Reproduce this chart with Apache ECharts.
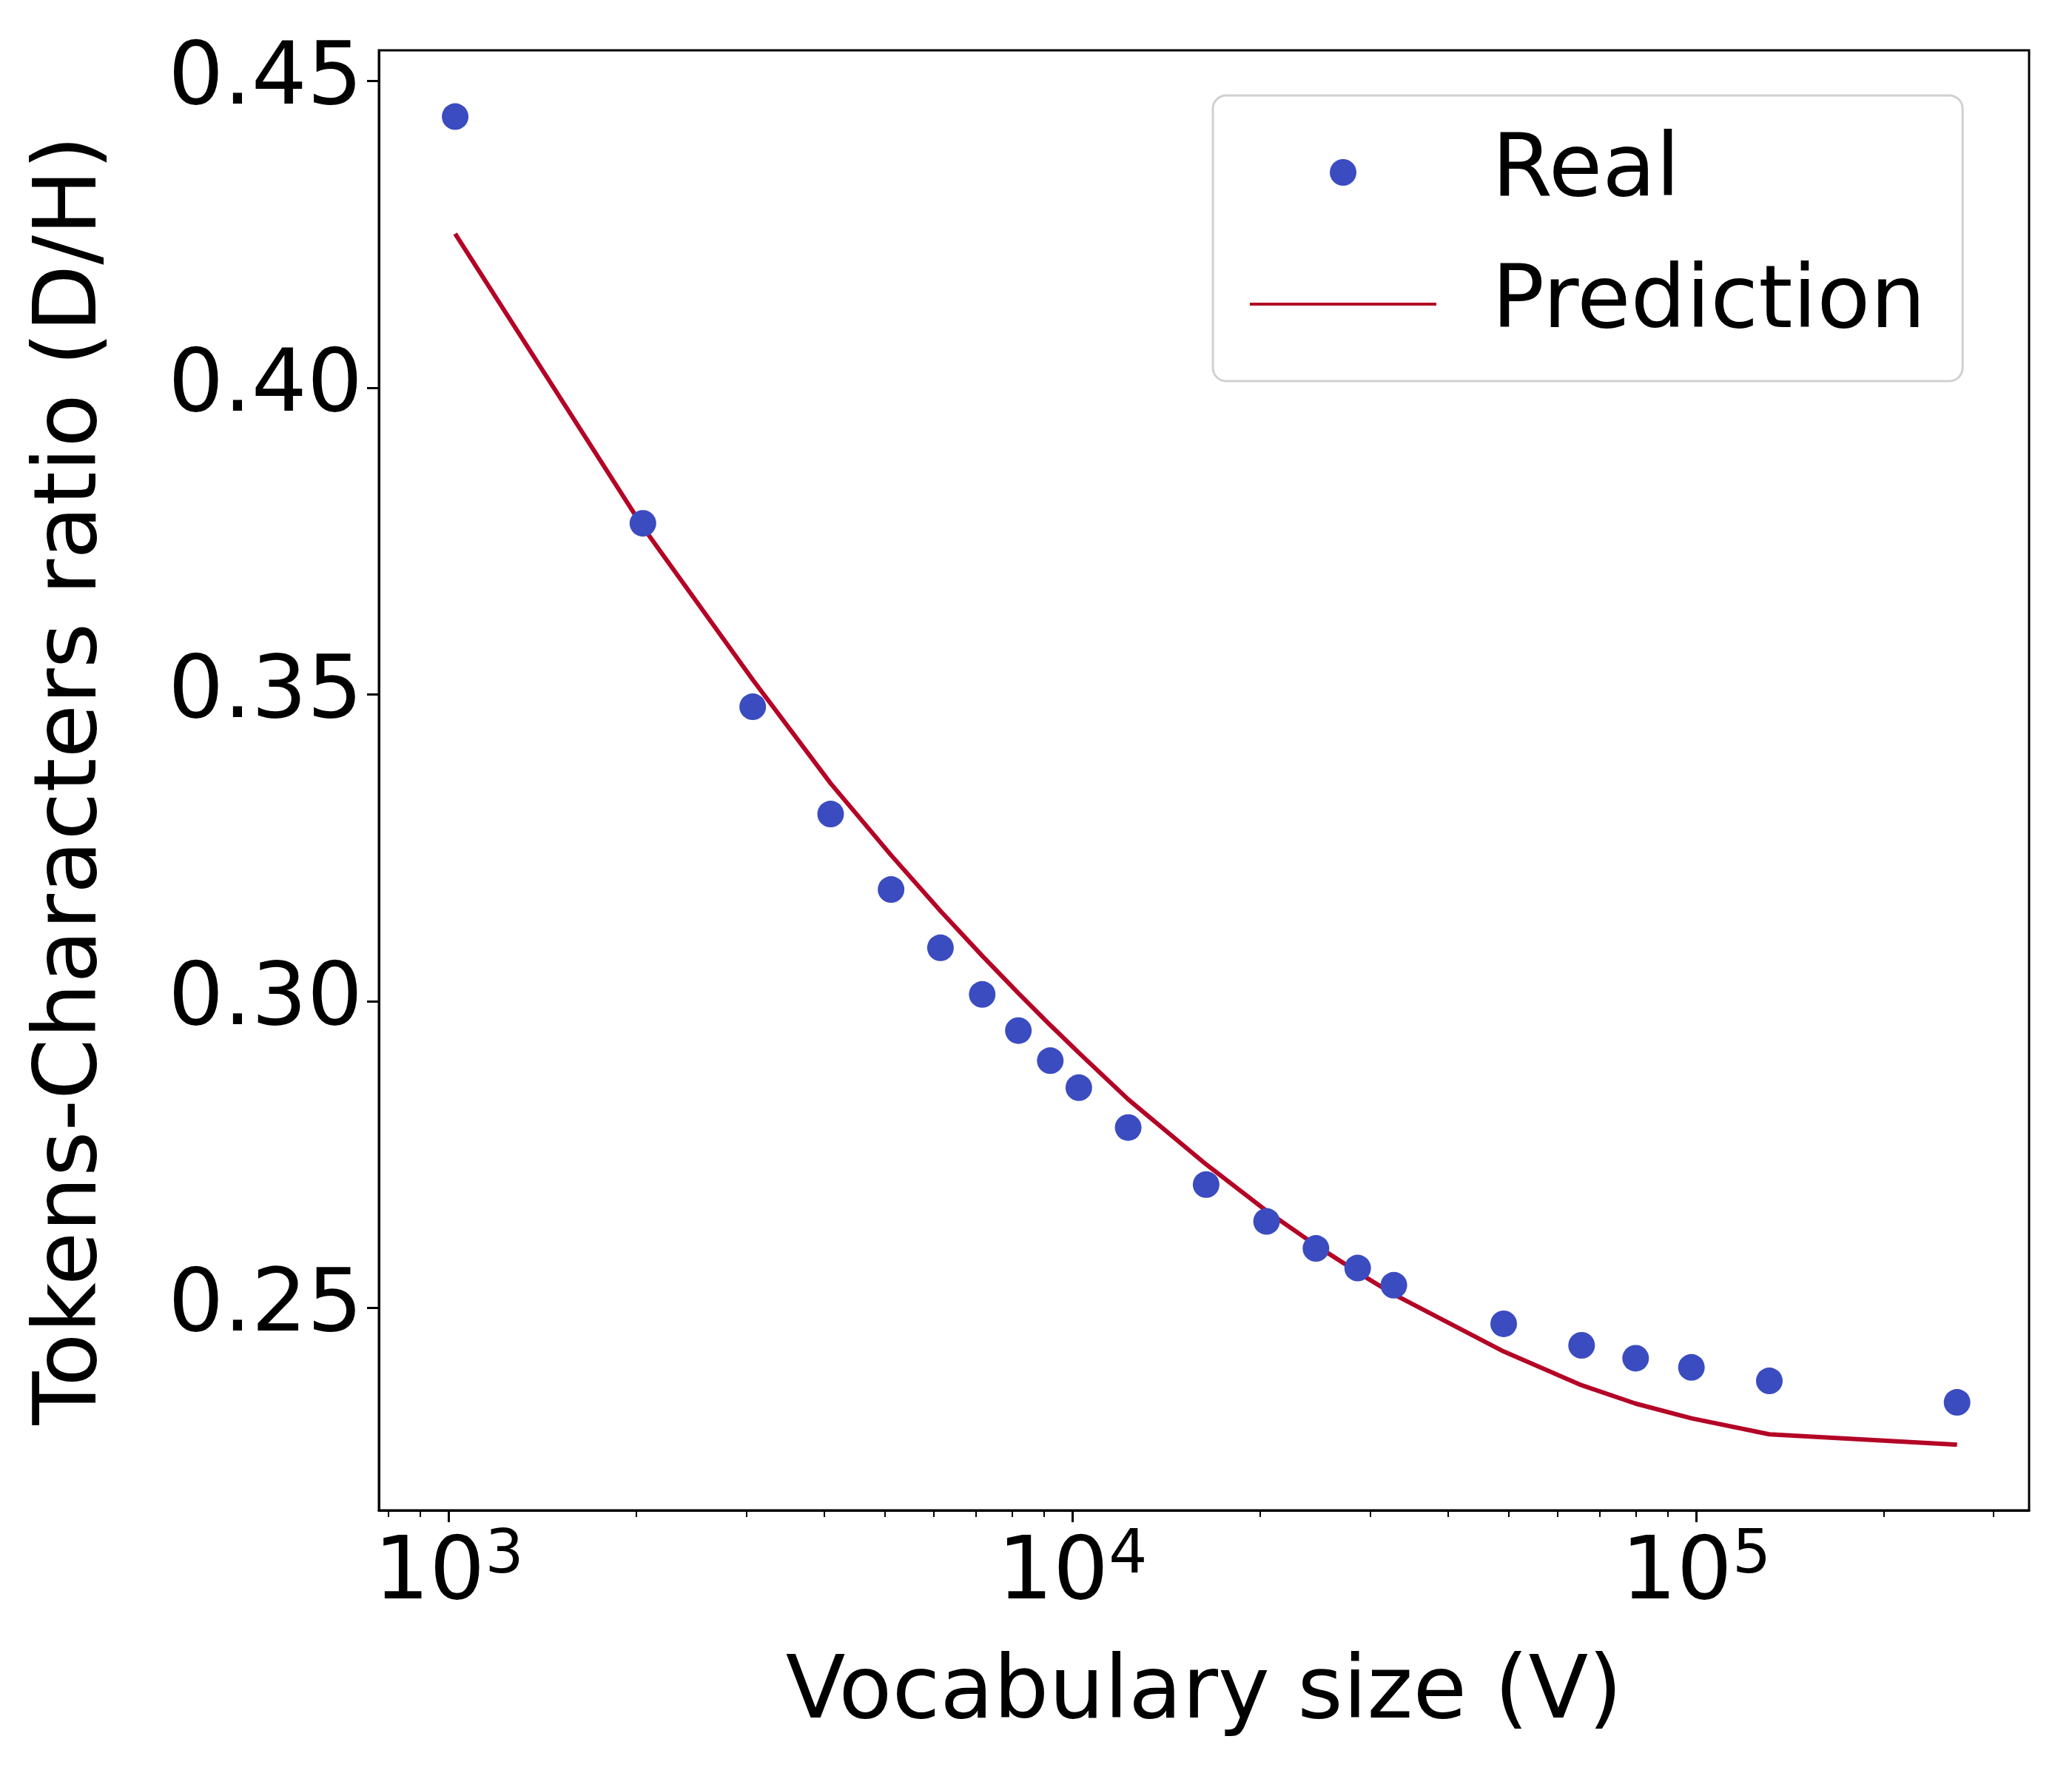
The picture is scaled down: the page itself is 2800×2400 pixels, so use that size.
<!DOCTYPE html>
<html>
<head>
<meta charset="utf-8">
<script src="https://cdn.jsdelivr.net/npm/echarts@6/dist/echarts.min.js"></script>
<style>html,body{margin:0;background:#fff}#main{width:2800px;height:2400px}</style>
</head>
<body>
<div id="main"></div>
<script>
// vocabulary sizes (V)
var vocab = [1024, 2048, 3072, 4096, 5120, 6144, 7168, 8192, 9216, 10240, 12288,
	16384, 20480, 24576, 28672, 32768, 49152, 65536, 80000, 98304, 131072, 262144];
// measured tokens / characters ratio
var realRatio = [0.4442, 0.3779, 0.3480, 0.3305, 0.3182, 0.3087, 0.3011, 0.2952, 0.2903, 0.2859, 0.2794,
	0.2701, 0.2641, 0.2597, 0.2565, 0.2537, 0.2474, 0.2439, 0.2418, 0.2403, 0.2381, 0.2346];
// fitted prediction
var predRatio = [0.4251, 0.3773, 0.3524, 0.3355, 0.3238, 0.3147, 0.3074, 0.3013, 0.2961, 0.2916, 0.2840,
	0.2734, 0.2658, 0.2602, 0.2558, 0.2522, 0.2429, 0.2374, 0.2344, 0.2320, 0.2294, 0.2277];
var yTicks = [0.25, 0.30, 0.35, 0.40, 0.45];
var xMajor = [3, 4, 5];

var xMinor = [];
for (var k = 2; k <= 5; k++) {
	for (var m = 2; m <= 9; m++) {
		var v = Math.log10(m * Math.pow(10, k));
		if (v > 2.888 && v < 5.534) xMinor.push(v);
	}
}

var font = 'DejaVu Sans';
var realData = [], predData = [];
for (var i = 0; i < vocab.length; i++) {
	realData.push([Math.log10(vocab[i]), realRatio[i]]);
	predData.push([Math.log10(vocab[i]), predRatio[i]]);
}

var myChart = echarts.init(document.getElementById('main'));
var option = {
	animation: false,
	backgroundColor: '#fff',
	grid: { left: 512, right: 58, top: 68, bottom: 359, show: true, borderColor: '#000', borderWidth: 3 },
	legend: {
		left: 1639, top: 129, orient: 'vertical',
		padding: [45, 50, 45, 50],
		borderColor: '#d0d0d0', borderWidth: 3, borderRadius: 18,
		itemWidth: 252, itemHeight: 36, itemGap: 60,
		textStyle: { fontFamily: font, fontSize: 118, color: '#000', padding: [0, 0, 0, 70] },
		data: [{ name: 'Real' }, { name: 'Prediction', icon: 'path://M0,0L100,0L100,1.6L0,1.6Z', itemStyle: { color: '#b40426' } }]
	},
	xAxis: [{
		type: 'value', min: 2.888, max: 5.534,
		name: 'Vocabulary size (V)', nameLocation: 'middle', nameGap: 190,
		nameTextStyle: { fontFamily: font, fontSize: 118, color: '#000' },
		splitLine: { show: false },
		axisLine: { lineStyle: { color: '#000', width: 3 } },
		axisTick: { customValues: xMajor, length: 16, lineStyle: { color: '#000', width: 3 } },
		axisLabel: {
			customValues: xMajor, margin: 22, fontFamily: font, fontSize: 118, color: '#000',
			formatter: function(v) { return '10{sup|' + Math.round(v) + '}'; },
			rich: { sup: { fontFamily: font, fontSize: 82, verticalAlign: 'top', padding: [0, 0, 50, 0], color: '#000' } }
		}
	}, {
		type: 'value', min: 2.888, max: 5.534, position: 'bottom',
		splitLine: { show: false },
		axisLine: { show: false },
		axisTick: { customValues: xMinor, length: 9, lineStyle: { color: '#000', width: 2 } },
		axisLabel: { show: false }
	}],
	yAxis: {
		type: 'value', min: 0.217, max: 0.455,
		name: 'Tokens-Characters ratio (D/H)', nameLocation: 'middle', nameGap: 355,
		nameTextStyle: { fontFamily: font, fontSize: 118, color: '#000' },
		splitLine: { show: false },
		axisLine: { lineStyle: { color: '#000', width: 3 } },
		axisTick: { customValues: yTicks, length: 16, lineStyle: { color: '#000', width: 3 } },
		axisLabel: {
			customValues: yTicks, margin: 22, fontFamily: font, fontSize: 118, color: '#000',
			formatter: function(v) { return v.toFixed(2); }
		}
	},
	series: [{
		name: 'Real', type: 'scatter', data: realData,
		symbolSize: 36, itemStyle: { color: '#3b4cc0', opacity: 1 }, z: 3
	}, {
		name: 'Prediction', type: 'line', data: predData,
		showSymbol: false, symbol: 'none',
		lineStyle: { color: '#b40426', width: 6 }, itemStyle: { color: '#b40426' }
	}]
};
myChart.setOption(option);
</script>
</body>
</html>
